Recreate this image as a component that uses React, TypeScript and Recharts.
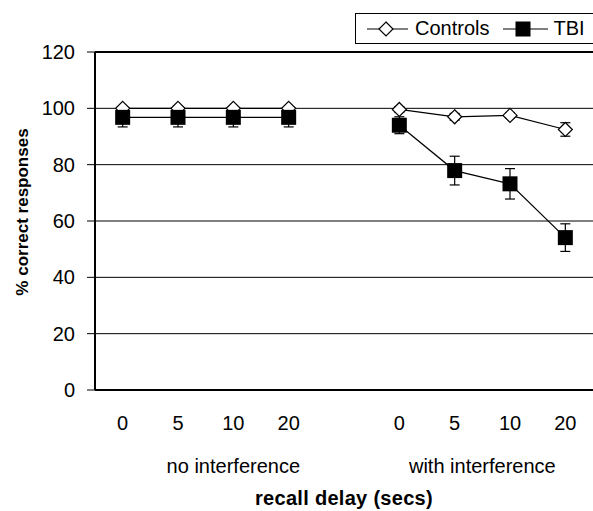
import React from 'react';
import {
  ComposedChart,
  Line,
  XAxis,
  YAxis,
  CartesianGrid,
  ErrorBar,
  Legend,
  Label,
  ReferenceLine,
} from 'recharts';

// 9 slots on the x axis: 4 delays, an empty gap, 4 delays
const slots = ['n0', 'n5', 'n10', 'n20', 'gap', 'w0', 'w5', 'w10', 'w20'];
const delayLabels = ['0', '5', '10', '20', '', '0', '5', '10', '20'];
const groupLabels = ['', '', 'no interference', '', '', '', 'with interference', '', ''];

const controls = [100, 100, 100, 100, null, 99.6, 97, 97.5, 92.5];
const controlsErr = [0.5, 0.5, 0.5, 0.5, null, 1, 1.2, 1, 2.4];
const tbi = [96.8, 96.8, 96.8, 96.8, null, 94, 77.9, 73.2, 54.1];
const tbiErr = [3.4, 3.4, 3.4, 3.4, null, 3, 5.1, 5.4, 4.9];

const yTicks = [0, 20, 40, 60, 80, 100, 120];

const FONT = '"Liberation Sans", Arial, Helvetica, sans-serif';

// how far (in half bands) each group label sits right of its slot
const groupShift: Record<number, number> = { 2: 0, 6: 1 };

const rows = slots.map((slot, i) => ({
  slot,
  controls: controls[i],
  controlsErr: controlsErr[i],
  tbi: tbi[i],
  tbiErr: tbiErr[i],
}));

const Diamond = (props: any) => {
  const { cx, cy } = props;
  if (cx == null || cy == null) return null;
  const r = 7;
  return (
    <path
      d={`M${cx},${cy - r} L${cx + r},${cy} L${cx},${cy + r} L${cx - r},${cy} Z`}
      fill="#fff"
      stroke="#000"
      strokeWidth={1.2}
    />
  );
};

const Square = (props: any) => {
  const { cx, cy } = props;
  if (cx == null || cy == null) return null;
  const h = 7.5;
  return <rect x={cx - h} y={cy - h} width={h * 2} height={h * 2} fill="#000" />;
};

const DelayTick = (props: any) => {
  const { x, y, payload } = props;
  const i = payload?.index ?? props.index;
  const half = payload?.offset ?? 0;
  return (
    <g>
      <text x={x} y={y} dy={40} textAnchor="middle" fontSize={20} fill="#000" fontFamily={FONT}>
        {delayLabels[i]}
      </text>
      {groupLabels[i] ? (
        <text
          x={x + half * (groupShift[i] ?? 0)}
          y={y}
          dy={83}
          textAnchor="middle"
          fontSize={20}
          fill="#000"
          fontFamily={FONT}
        >
          {groupLabels[i]}
        </text>
      ) : null}
    </g>
  );
};

const LegendBox = () => (
  <div
    style={{
      display: 'flex',
      alignItems: 'center',
      height: 31,
      width: 270,
      borderTop: '1px solid #000',
      borderLeft: '1px solid #000',
      borderBottom: '1px solid #000',
      boxSizing: 'border-box',
      paddingLeft: 11,
      fontFamily: FONT,
      fontSize: 20,
      color: '#000',
      background: '#fff',
      whiteSpace: 'nowrap',
    }}
  >
    <svg width={41} height={16} style={{ marginRight: 7 }}>
      <line x1={0} y1={8} x2={41} y2={8} stroke="#000" strokeWidth={1.2} />
      <Diamond cx={19} cy={8} />
    </svg>
    <span style={{ marginRight: 14 }}>Controls</span>
    <svg width={45} height={16} style={{ marginRight: 5 }}>
      <line x1={0} y1={8} x2={45} y2={8} stroke="#000" strokeWidth={1.2} />
      <Square cx={20} cy={8} />
    </svg>
    <span>TBI</span>
  </div>
);

export default function App() {
  return (
    <div
      style={{
        position: 'absolute',
        left: 0,
        top: 0,
        width: 593,
        height: 511,
        overflow: 'hidden',
        background: '#fff',
        fontFamily: FONT,
      }}
    >
      <ComposedChart width={593} height={511} data={rows} margin={{ top: 52, right: 0, bottom: 0, left: 0 }}>
        <CartesianGrid vertical={false} stroke="#000" strokeWidth={1} />
        <XAxis
          dataKey="slot"
          scale="band"
          interval={0}
          tickLine={false}
          tickSize={0}
          tickMargin={0}
          height={121}
          axisLine={{ stroke: '#000', strokeWidth: 2 }}
          tick={<DelayTick />}
        >
          <Label
            value="recall delay (secs)"
            position="insideBottom"
            offset={6}
            fontSize={20}
            fontWeight="bold"
            letterSpacing={0.3}
            fill="#000"
            fontFamily={FONT}
          />
        </XAxis>
        <YAxis
          domain={[0, 120]}
          ticks={yTicks}
          width={95}
          tickSize={8}
          tickMargin={12}
          tickLine={{ stroke: '#000' }}
          axisLine={{ stroke: '#000', strokeWidth: 2 }}
          tick={{ fontSize: 20, fill: '#000', fontFamily: FONT }}
        >
          <Label
            content={() => (
              <text
                transform="translate(22,212) rotate(-90)"
                textAnchor="middle"
                dominantBaseline="central"
                fontSize={17}
                fontWeight="bold"
                fill="#000"
                fontFamily={FONT}
              >
                % correct responses
              </text>
            )}
          />
        </YAxis>
        <ReferenceLine y={120} stroke="#000" strokeWidth={2} />
        <Legend
          layout="horizontal"
          verticalAlign="middle"
          align="center"
          content={<LegendBox />}
          wrapperStyle={{ top: 13, left: 355, width: 270 }}
        />
        <Line
          type="linear"
          dataKey="controls"
          stroke="#000"
          strokeWidth={1.2}
          dot={<Diamond />}
          activeDot={false}
          connectNulls={false}
          isAnimationActive={false}
        >
          <ErrorBar dataKey="controlsErr" width={5} stroke="#000" strokeWidth={1.2} direction="y" />
        </Line>
        <Line
          type="linear"
          dataKey="tbi"
          stroke="#000"
          strokeWidth={1.2}
          dot={<Square />}
          activeDot={false}
          connectNulls={false}
          isAnimationActive={false}
        >
          <ErrorBar dataKey="tbiErr" width={5} stroke="#000" strokeWidth={1.2} direction="y" />
        </Line>
      </ComposedChart>
    </div>
  );
}
